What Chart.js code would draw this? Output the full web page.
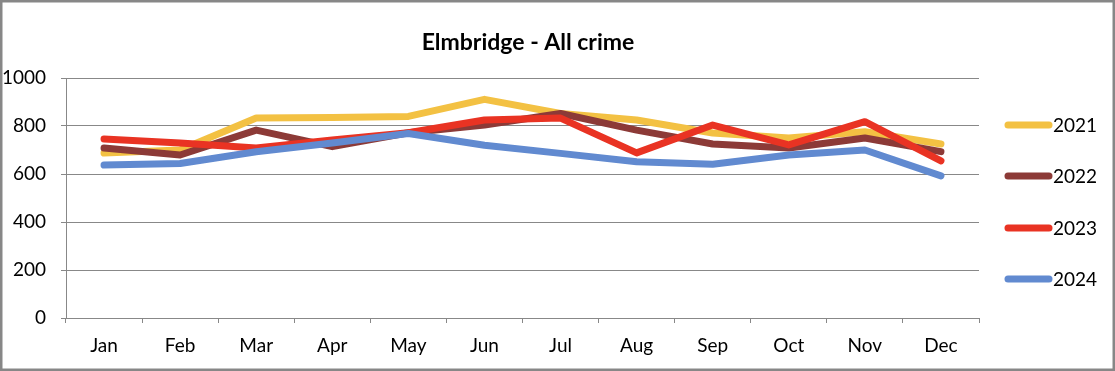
<!DOCTYPE html>
<html>
<head>
<meta charset="utf-8">
<script src="https://cdn.jsdelivr.net/npm/chart.js@4/dist/chart.umd.min.js"></script>
<style>
html,body{margin:0;padding:0;background:#fff;}
#wrap{width:1115px;height:371px;position:relative;}
</style>
</head>
<body>
<div id="wrap"><canvas id="c" width="1115" height="371"></canvas></div>
<script>
const titleText = "Elmbridge - All crime";
const categories = ["Jan","Feb","Mar","Apr","May","Jun","Jul","Aug","Sep","Oct","Nov","Dec"];
const seriesNames = ["2021","2022","2023","2024"];
const values2021 = [687, 700, 833, 835, 840, 911, 852, 825, 771, 750, 776, 725];
const values2022 = [708, 679, 783, 714, 772, 804, 852, 783, 725, 708, 750, 693];
const values2023 = [746, 729, 708, 742, 772, 825, 833, 688, 804, 721, 818, 655];
const values2024 = [637, 644, 693, 729, 769, 720, 686, 651, 641, 679, 700, 592];
const yTicks = [0, 200, 400, 600, 800, 1000];

const colors = ["#F3C143", "#8C3A37", "#E93323", "#618AD0"];
const FONT = "Lato, 'Open Sans', 'Liberation Sans', sans-serif";
const GRID = "#888888";

const allValues = [values2021, values2022, values2023, values2024];

const decorPlugin = {
  id: 'decor',
  beforeDraw(chart) {
    const ctx = chart.ctx;
    ctx.save();
    ctx.fillStyle = '#fff';
    ctx.fillRect(0, 0, chart.width, chart.height);
    ctx.restore();
  },
  afterDraw(chart) {
    const ctx = chart.ctx;
    ctx.save();
    ctx.strokeStyle = '#878787';
    ctx.lineWidth = 2.5;
    ctx.strokeRect(1.25, 1.25, chart.width - 2.5, chart.height - 2.5);
    ctx.fillStyle = '#000';
    ctx.font = "bold 23px " + FONT;
    ctx.textAlign = 'center';
    ctx.textBaseline = 'alphabetic';
    ctx.fillText(titleText, 528, 50);
    const ys = [125, 176, 228, 279];
    chart.data.datasets.forEach((ds, i) => {
      ctx.strokeStyle = ds.borderColor;
      ctx.lineWidth = 7;
      ctx.lineCap = 'round';
      ctx.beginPath();
      ctx.moveTo(1008, ys[i]);
      ctx.lineTo(1049, ys[i]);
      ctx.stroke();
      ctx.fillStyle = '#000';
      ctx.font = "19px " + FONT;
      ctx.textAlign = 'left';
      ctx.textBaseline = 'middle';
      ctx.fillText(ds.label, 1053, ys[i] + 1);
    });
    ctx.restore();
  }
};

new Chart(document.getElementById('c'), {
  type: 'line',
  data: {
    labels: categories,
    datasets: seriesNames.map((name, i) => ({
      label: name,
      data: allValues[i],
      borderColor: colors[i],
      backgroundColor: colors[i],
      borderWidth: 7,
      pointRadius: 0,
      pointHoverRadius: 0,
      tension: 0,
      fill: false,
      borderCapStyle: 'round',
      borderJoinStyle: 'round',
      order: 4 - i
    }))
  },
  options: {
    responsive: false,
    animation: false,
    devicePixelRatio: 1,
    layout: { padding: { left: 0, top: 78, right: 136, bottom: 0 } },
    plugins: {
      legend: { display: false },
      title: { display: false },
      tooltip: { enabled: false }
    },
    scales: {
      x: {
        offset: true,
        grid: { offset: true, drawOnChartArea: false, drawTicks: true, tickLength: 5, color: GRID, lineWidth: 1 },
        border: { display: true, color: GRID, width: 1 },
        ticks: { color: '#000', font: { family: FONT, size: 19 }, padding: 11, maxRotation: 0, autoSkip: false },
        afterFit(scale) { scale.height = 53; }
      },
      y: {
        min: 0, max: 1000,
        afterBuildTicks(scale) { scale.ticks = yTicks.map(v => ({ value: v })); },
        grid: { color: GRID, lineWidth: 1, tickLength: 5 },
        border: { display: true, color: GRID, width: 1 },
        ticks: { color: '#000', font: { family: FONT, size: 19 }, padding: 15, callback: v => String(v) },
        afterFit(scale) { scale.width = 66; }
      }
    }
  },
  plugins: [decorPlugin]
});
</script>
</body>
</html>
